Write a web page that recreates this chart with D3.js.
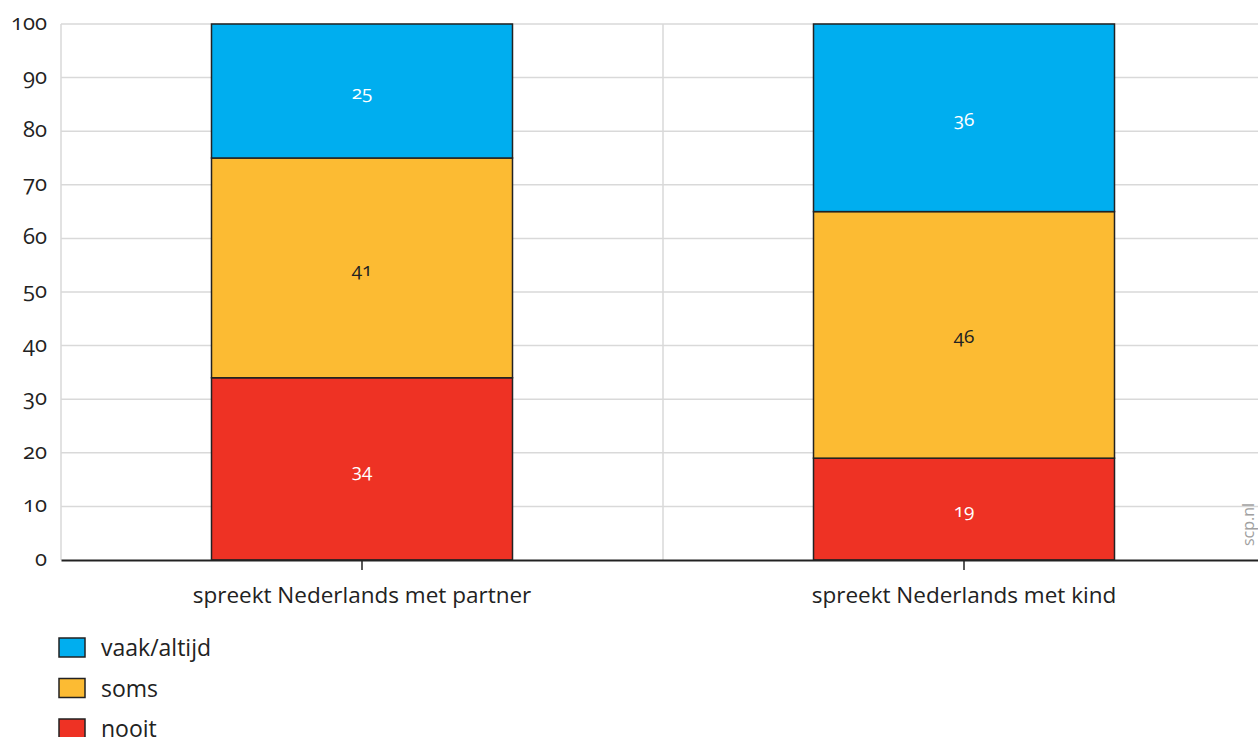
<!DOCTYPE html>
<html>
<head>
<meta charset="utf-8">
<script src="https://cdn.jsdelivr.net/npm/d3@7"></script>
<style>
  body { margin: 0; background: #fff; }
  text { font-family: 'Open Sans', 'Noto Sans', sans-serif; font-variant-numeric: oldstyle-nums; font-feature-settings: 'onum'; }
</style>
</head>
<body>
<div id="chart-area"></div>
<script>
// categories and series (percentages)
var categories = ['spreekt Nederlands met partner', 'spreekt Nederlands met kind'];
var seriesNames = ['nooit', 'soms', 'vaak/altijd'];
var nooit = [34, 19];
var soms = [41, 46];
var vaak = [25, 36];
var yTicks = [0, 10, 20, 30, 40, 50, 60, 70, 80, 90, 100];
var legendOrder = ['vaak/altijd', 'soms', 'nooit'];

var colors = { 'nooit': '#ee3224', 'soms': '#fcbb33', 'vaak/altijd': '#00aeef' };
var labelColors = { 'nooit': '#fff', 'soms': '#222', 'vaak/altijd': '#fff' };

var W = 1258, H = 737;
var margin = { top: 24, right: -7, bottom: 177, left: 61 };
var width = W - margin.left - margin.right,
    height = H - margin.top - margin.bottom;

var svg = d3.select('#chart-area')
    .append('svg')
        .attr('width', W)
        .attr('height', H);

var g = svg.append('g')
    .attr('transform', 'translate(' + margin.left + ',' + margin.top + ')');

var x = d3.scaleBand()
    .domain(categories)
    .range([0, width])
    .paddingInner(0.5)
    .paddingOuter(0.25);

var y = d3.scaleLinear()
    .domain([0, 100])
    .range([height, 0]);

// horizontal grid
g.selectAll('.hgrid')
    .data(yTicks.filter(d => d > 0))
    .enter().append('line')
        .attr('x1', 0)
        .attr('x2', width)
        .attr('y1', d => y(d))
        .attr('y2', d => y(d))
        .attr('stroke', '#d9d9d9')
        .attr('stroke-width', 1.5);

// vertical grid (left edge, between categories, right edge)
var vgrid = [0, x.step(), x.step() * 2];
g.selectAll('.vgrid')
    .data(vgrid)
    .enter().append('line')
        .attr('x1', d => d)
        .attr('x2', d => d)
        .attr('y1', 0)
        .attr('y2', height)
        .attr('stroke', '#d9d9d9')
        .attr('stroke-width', 1.5);

// stacked data
var rows = categories.map((c, i) => ({ cat: c, nooit: nooit[i], soms: soms[i], 'vaak/altijd': vaak[i] }));
var segs = [];
rows.forEach(r => {
    var start = 0;
    seriesNames.forEach(s => {
        var end = Math.min(start + r[s], 100);
        segs.push({ cat: r.cat, key: s, v: r[s], y0: start, y1: end });
        start = end;
    });
});

g.selectAll('rect.seg')
    .data(segs)
    .enter().append('rect')
        .attr('class', 'seg')
        .attr('x', d => x(d.cat))
        .attr('width', x.bandwidth())
        .attr('y', d => y(d.y1))
        .attr('height', d => y(d.y0) - y(d.y1))
        .attr('fill', d => colors[d.key])
        .attr('stroke', '#222')
        .attr('stroke-width', 1.5);

g.selectAll('text.val')
    .data(segs)
    .enter().append('text')
        .attr('class', 'val')
        .attr('x', d => x(d.cat) + x.bandwidth() / 2)
        .attr('y', d => y((d.y0 + d.y1) / 2) + 8)
        .attr('text-anchor', 'middle')
        .attr('font-size', '19px')
        .attr('fill', d => labelColors[d.key])
        .text(d => d.v);

// y axis labels
g.selectAll('.ylab')
    .data(yTicks)
    .enter().append('text')
        .attr('x', -14)
        .attr('y', d => y(d) + 6)
        .attr('text-anchor', 'end')
        .attr('font-size', '22px')
        .attr('fill', '#222')
        .text(d => d);

// x axis
var xAxisCall = d3.axisBottom(x).tickSize(10).tickSizeOuter(0).tickPadding(17);
var xAxis = g.append('g')
    .attr('transform', 'translate(0,' + height + ')')
    .call(xAxisCall);
xAxis.select('.domain').attr('stroke', '#222').attr('stroke-width', 2);
xAxis.selectAll('.tick line').attr('stroke', '#222').attr('stroke-width', 1.5);
xAxis.selectAll('.tick text')
    .attr('font-size', '22.5px')
    .attr('fill', '#222')
    .style('font-family', "'Open Sans', 'Noto Sans', sans-serif");

// watermark
svg.append('text')
    .attr('transform', 'translate(1254,546) rotate(-90)')
    .attr('font-size', '16px')
    .attr('fill', '#a0a0a0')
    .text('scp.nl');

// legend
var legend = svg.selectAll('.legend')
    .data(legendOrder)
    .enter().append('g')
        .attr('transform', (d, i) => 'translate(59,' + (638 + i * 40.5) + ')');
legend.append('rect')
    .attr('width', 26)
    .attr('height', 19)
    .attr('fill', d => colors[d])
    .attr('stroke', '#222')
    .attr('stroke-width', 1.5);
legend.append('text')
    .attr('x', 42)
    .attr('y', 18)
    .attr('font-size', '23px')
    .attr('fill', '#222')
    .text(d => d);
</script>
</body>
</html>
